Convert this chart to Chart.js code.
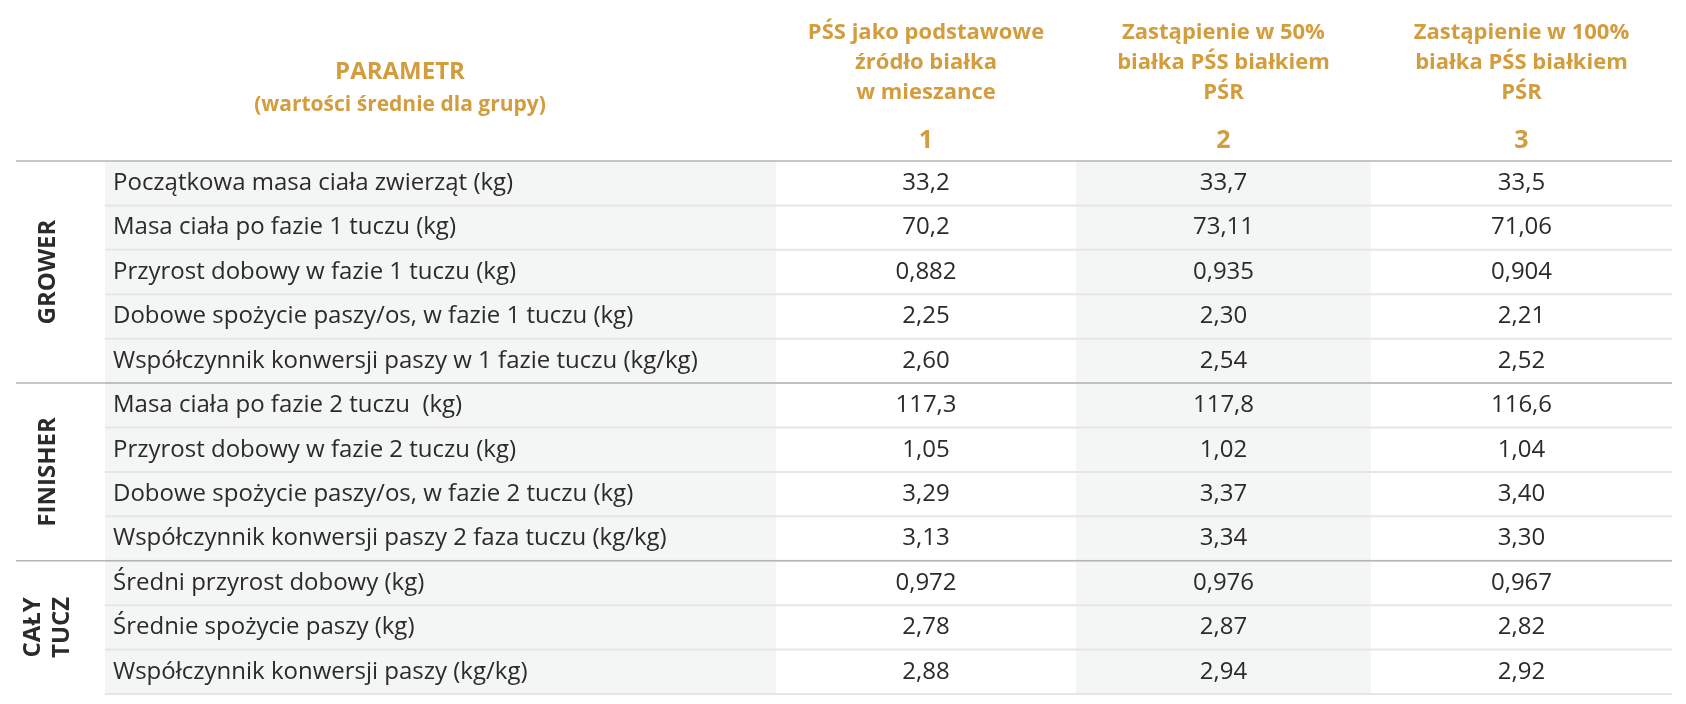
<!DOCTYPE html>
<html><head><meta charset="utf-8">
<script src="https://cdn.jsdelivr.net/npm/chart.js@4"></script>
<style>html,body{margin:0;background:#fff}#wrap{width:1686px;height:704px}</style>
</head><body><div id="wrap"><canvas id="c"></canvas></div>
<script>
'use strict';

const rowLabels = [
	'Początkowa masa ciała zwierząt (kg)',
	'Masa ciała po fazie 1 tuczu (kg)',
	'Przyrost dobowy w fazie 1 tuczu (kg)',
	'Dobowe spożycie paszy/os, w fazie 1 tuczu (kg)',
	'Współczynnik konwersji paszy w 1 fazie tuczu (kg/kg)',
	'Masa ciała po fazie 2 tuczu  (kg)',
	'Przyrost dobowy w fazie 2 tuczu (kg)',
	'Dobowe spożycie paszy/os, w fazie 2 tuczu (kg)',
	'Współczynnik konwersji paszy 2 faza tuczu (kg/kg)',
	'Średni przyrost dobowy (kg)',
	'Średnie spożycie paszy (kg)',
	'Współczynnik konwersji paszy (kg/kg)'
];
const group1 = ['33,2', '70,2', '0,882', '2,25', '2,60', '117,3', '1,05', '3,29', '3,13', '0,972', '2,78', '2,88'];
const group2 = ['33,7', '73,11', '0,935', '2,30', '2,54', '117,8', '1,02', '3,37', '3,34', '0,976', '2,87', '2,94'];
const group3 = ['33,5', '71,06', '0,904', '2,21', '2,52', '116,6', '1,04', '3,40', '3,30', '0,967', '2,82', '2,92'];
const columnHeaders = [
	['PŚS jako podstawowe', 'źródło białka', 'w mieszance'],
	['Zastąpienie w 50%', 'białka PŚS białkiem', 'PŚR'],
	['Zastąpienie w 100%', 'białka PŚS białkiem', 'PŚR']
];
const columnNumbers = ['1', '2', '3'];
const sections = [
	{lines: ['GROWER'], from: 0, to: 4},
	{lines: ['FINISHER'], from: 5, to: 8},
	{lines: ['CAŁY', 'TUCZ'], from: 9, to: 11}
];

const GOLD = '#d39c3c', TEXT = '#2b2b2b', FONT = '"Open Sans", sans-serif';
const colEdges = [0, 671, 971, 1266, 1567];		//x-scale units, label col + 3 value cols
const columns = [group1, group2, group3];

const tablePlugin = {
	id: 'table',
	beforeDatasetsDraw: chart => {
		const {ctx, chartArea: area, scales: {x, y}} = chart;
		const half = (y.getPixelForValue(1) - y.getPixelForValue(0)) / 2;
		const px = v => x.getPixelForValue(v);
		ctx.save();
		//column shading
		ctx.fillStyle = '#f4f5f5';
		ctx.fillRect(px(colEdges[0]), area.top, px(colEdges[1]) - px(colEdges[0]), area.bottom - area.top);
		ctx.fillRect(px(colEdges[2]), area.top, px(colEdges[3]) - px(colEdges[2]), area.bottom - area.top);
		//row lines
		ctx.strokeStyle = '#e6e6e6';
		ctx.lineWidth = 2;
		rowLabels.forEach((l, i) => {
			const yy = y.getPixelForValue(i) + half;
			ctx.beginPath(); ctx.moveTo(px(0), yy); ctx.lineTo(area.right, yy); ctx.stroke();
		});
		//section lines
		ctx.strokeStyle = '#b5b5b5';
		ctx.lineWidth = 1.5;
		[0, 5, 9].forEach(i => {
			const yy = y.getPixelForValue(i) - half;
			ctx.beginPath(); ctx.moveTo(16, yy); ctx.lineTo(area.right, yy); ctx.stroke();
		});
		//row labels and values
		ctx.textBaseline = 'middle';
		ctx.fillStyle = TEXT;
		ctx.font = '24px ' + FONT;
		rowLabels.forEach((l, i) => {
			const yy = y.getPixelForValue(i);
			ctx.textAlign = 'left';
			ctx.fillText(l, px(0) + 8, yy);
			ctx.textAlign = 'center';
			columns.forEach((col, c) => ctx.fillText(col[i], px((colEdges[c + 1] + colEdges[c + 2]) / 2), yy));
		});
		//section titles, rotated
		ctx.font = 'bold 24px ' + FONT;
		sections.forEach(s => {
			const yc = (y.getPixelForValue(s.from) + y.getPixelForValue(s.to)) / 2;
			ctx.save();
			ctx.translate(48, yc);
			ctx.rotate(-Math.PI / 2);
			s.lines.forEach((t, k) => ctx.fillText(t, 0, (k - (s.lines.length - 1) / 2) * 29));
			ctx.restore();
		});
		//header
		ctx.fillStyle = GOLD;
		ctx.font = 'bold 24px ' + FONT;
		ctx.fillText('PARAMETR', 400, 72);
		ctx.font = 'bold 21px ' + FONT;
		ctx.fillText('(wartości średnie dla grupy)', 400, 105);
		columnHeaders.forEach((lines, c) => {
			const xc = px((colEdges[c + 1] + colEdges[c + 2]) / 2);
			ctx.font = 'bold 22px ' + FONT;
			lines.forEach((t, k) => ctx.fillText(t, xc, 33 + k * 30));
			ctx.font = 'bold 25px ' + FONT;
			ctx.fillText(columnNumbers[c], xc, 141);
		});
		ctx.restore();
	}
};

new Chart(document.getElementById('c'), {
	type: 'scatter',
	data: {datasets: [{data: [], pointRadius: 0}]},
	options: {
		animation: false,
		responsive: true,
		maintainAspectRatio: false,
		layout: {padding: {left: 105, right: 14, top: 161, bottom: 10}},
		plugins: {legend: {display: false}, tooltip: {enabled: false}},
		scales: {
			x: {type: 'linear', min: colEdges[0], max: colEdges[colEdges.length - 1], display: false},
			y: {type: 'category', labels: rowLabels, offset: true, display: false}
		}
	},
	plugins: [tablePlugin]
});
</script></body></html>
